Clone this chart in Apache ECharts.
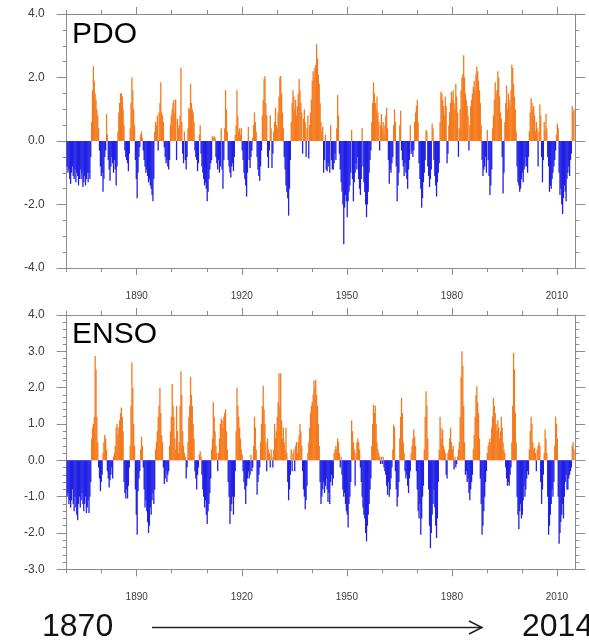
<!DOCTYPE html>
<html>
<head>
<meta charset="utf-8">
<script src="https://cdn.jsdelivr.net/npm/echarts@6/dist/echarts.min.js"></script>
<style>
html,body{margin:0;padding:0;background:#fff;}
#chart{width:589px;height:642px;}
</style>
</head>
<body>
<div id="chart"></div>
<script>
// ---- axis / tick data ----
const startYear = 1870;
const stepsPerYear = 4;          // quarterly values
const xMin = 1870, xMax = 2015.25;
const xMajorTicks = [1890, 1920, 1950, 1980, 2010];
const xMinorTicks = [1870, 1880, 1900, 1910, 1930, 1940, 1960, 1970, 1990, 2000];
const pdoRange = [-4, 4], pdoInterval = 2;
const ensoRange = [-3, 4], ensoInterval = 1;

// ---- PDO index, quarterly, per decade ----
const pdo1870s = [-0.8,-1.0,-0.9,-1.2, -1.35,-1.0,-0.8,-1.1, -1.2,-0.9,-1.3,-1.0, -1.1,-1.4,-1.2,-0.9, -1.2,-1.0,-1.45,-1.3,
                  -1.1,-1.4,-1.2,-1.0, -1.3,-1.0,-1.2,-0.5, 0.6,1.6,2.35,1.9, 1.5,1.3,1.0,0.8, 0.4,-0.3,-0.8,-1.1];
const pdo1880s = [-1.0,-1.6,-1.2,-0.5, -0.3,0.85,0.2,-0.6, -0.9,-1.25,-0.8,-0.5, -0.7,-1.0,-0.6,-0.9, -1.4,-0.8,0.3,0.9,
                  1.2,1.5,1.5,1.4, 1.0,0.5,-0.3,-0.5, -0.6,-0.7,-0.95,-0.4, 0.4,1.2,2.0,1.6, 1.0,0.5,-0.6,-1.2];
const pdo1890s = [-1.8,-1.0,-0.5,-0.2, 0.2,0.3,0.1,-0.3, -0.6,-0.8,-1.0,-0.9, -1.1,-1.3,-1.2,-1.4, -1.5,-1.7,-1.9,-1.2,
                  0.3,0.6,0.5,0.8, -0.3,0.9,1.2,1.85, 0.9,0.8,0.6,-0.2, -0.5,-0.7,-0.6,-0.8, -0.9,-0.6,0.5,0.8];
const pdo1900s = [1.0,1.2,1.3,0.9, 1.3,-0.6,0.7,0.4, 0.5,0.8,2.3,0.6, -0.4,-0.7,0.3,-0.6, -0.9,-0.5,0.4,1.05,
                  1.0,1.8,1.2,1.0, 0.9,0.6,-0.3,-0.5, -0.6,-0.95,-0.7,0.2, 0.5,-0.4,-0.8,-1.0, -1.2,-1.4,-1.3,-1.5];
const pdo1910s = [-1.9,-1.6,-1.2,-0.9, -0.7,-0.6,0.15,0.1, 0.15,0.1,-0.5,-0.7, -0.9,-0.6,-1.0,-0.8, 0.4,-0.9,-1.5,-0.6,
                  0.4,1.6,1.0,0.3, -0.6,-0.8,-1.0,-1.15, -0.8,-0.7,-0.95,-0.5, 0.2,0.5,1.6,0.8, 0.3,0.4,0.2,0.4];
const pdo1920s = [-0.3,-0.6,-1.0,-1.2, -1.4,-1.75,-1.0,0.45, -0.6,-0.85,-0.5,-0.3, 0.1,0.5,0.9,0.6, 0.3,-0.5,-0.9,-1.1,
                  -1.25,-0.8,-0.3,0.8, 1.3,1.95,2.05,1.2, 0.8,-0.5,-0.85,-0.3, 0.8,0.4,-0.85,-0.4, 0.3,0.6,1.05,0.5];
const pdo1930s = [0.4,0.9,1.4,2.0, 2.05,1.5,0.9,0.4, -0.5,-0.9,-1.4,-1.6, -1.8,-2.35,-1.5,-0.6, 0.6,1.2,1.6,1.4,
                  1.0,1.3,0.8,1.1, 1.5,1.95,1.6,1.2, 0.9,-0.4,0.7,1.0, 0.6,-0.5,0.4,0.8, -0.55,0.5,0.9,1.3];
const pdo1940s = [1.9,2.2,2.0,2.3, 2.4,3.05,2.6,2.1, 1.8,1.2,0.6,0.3, 0.45,-1.0,-0.6,0.2, -0.9,-0.95,-0.7,-0.8,
                  -1.0,0.5,-0.6,-0.9, -0.9,-0.7,-0.4,-0.6, 0.4,1.45,0.8,-0.4, -0.9,-1.3,-1.6,-2.0, -3.25,-2.1,-1.7,-1.9];
const pdo1950s = [-2.4,-1.9,-1.6,-1.4, -1.0,0.35,-1.2,-1.9, -1.3,-1.0,-0.7,-0.9, -0.5,-1.2,-1.5,-1.7, -1.2,0.4,-0.8,-1.3,
                  -1.6,-2.0,-2.4,-2.0, -1.6,-1.0,-0.6,-0.3, 0.6,1.2,1.85,1.5, 1.2,1.0,1.4,0.9, 0.6,-0.3,0.5,0.85];
const pdo1960s = [0.4,0.6,0.2,0.5, 0.8,1.05,0.4,-0.6, -1.35,-0.9,-1.0,-0.7, -0.5,0.5,1.0,0.6, -0.8,-1.9,-1.4,-1.0,
                  0.5,0.95,-0.3,-0.6, -0.8,-1.1,-0.7,-1.0, -1.2,-1.5,-0.9,-0.6, 0.5,-0.4,-0.3,-0.5, -0.3,0.6,0.9,1.1];
const pdo1970s = [1.3,0.6,-0.7,-1.2, -1.5,-2.1,-1.8,-1.3, -1.0,-0.6,0.35,0.3, -0.8,-1.1,-1.45,-1.2, -0.9,0.55,0.4,-0.6,
                  -1.1,-1.4,-1.75,-1.3, -1.0,-0.7,0.6,1.55, 1.5,1.3,1.1,0.8, 1.4,1.1,-0.7,-0.4, 0.5,0.9,1.2,1.55];
const pdo1980s = [1.3,1.6,1.2,1.0, 1.8,1.4,0.9,-0.5, 0.4,1.0,1.6,2.0, 2.1,2.7,2.0,1.5, 1.3,1.1,0.8,-0.3,
                  0.5,1.1,1.3,1.5, 1.7,1.9,1.6,2.1, 2.35,2.2,1.9,1.6, 1.2,0.5,-0.6,-1.1, -0.9,-0.8,-0.5,-1.0];
const pdo1990s = [0.35,-0.6,-1.1,-1.7, -1.4,-0.9,0.4,0.8, 1.3,1.85,1.5,1.6, 2.2,2.0,1.4,0.9, 0.7,-0.5,-1.65,-1.0,
                  0.6,1.2,1.75,1.0, 1.5,1.3,1.1,1.6, 2.4,2.3,1.8,1.4, 1.0,0.3,-0.8,-1.3, -1.4,-1.6,-1.5,-1.2];
const pdo2000s = [-1.0,-1.3,-0.9,-0.8, -0.5,-0.8,-1.0,-0.5, 0.3,0.9,1.35,1.2, 1.0,1.1,0.8,0.3, 0.6,0.4,-0.8,0.3,
                  1.15,0.8,-0.5,-1.3, -0.6,0.6,0.3,0.85, 0.4,-0.5,-0.8,-1.6, -1.4,-1.5,-1.2,-1.0, -0.8,-0.6,-0.3,0.2];
const pdo2010s = [0.55,0.4,-1.0,-1.7, -1.5,-2.0,-2.3,-1.8, -1.4,-1.6,-1.9,-1.2, -1.0,-0.8,-1.1,-0.6, -0.4,1.1,0.9,1.0];

// ---- ENSO index, quarterly, per decade ----
const enso1870s = [-1.0,-0.9,-1.2,-1.1, -1.3,-1.1,-0.8,-1.2, -1.4,-1.0,-1.3,-1.5, -1.65,-1.2,-1.0,-1.3, -1.1,-0.9,-1.2,-1.4,
                   -1.2,-1.0,-1.45,-1.3, -1.1,-1.45,-1.0,-0.6, 0.6,0.9,1.0,1.2, 2.87,2.5,1.2,0.5, -0.2,-0.5,-0.85,-0.6];
const enso1880s = [-0.4,0.2,0.5,0.7, 0.6,0.3,-0.3,-0.5, -0.75,-0.55,-0.4,-0.2, -0.5,0.1,0.2,0.4, 0.9,1.0,0.7,0.9,
                   1.1,1.3,1.45,1.2, 0.8,-0.6,-0.9,-1.05, -0.8,-1.05,-0.7,-0.2, 0.4,1.5,2.7,2.0, 1.0,0.4,-0.8,-1.5];
const enso1890s = [-2.05,-0.85,-0.5,-0.3, 0.3,0.65,0.4,-0.2, -0.8,-1.3,-1.1,-1.4, -1.7,-2.0,-1.8,-1.3, -1.5,-1.1,-0.9,-1.2,
                   -0.8,0.3,0.5,0.8, 1.2,1.5,2.0,1.3, 0.7,0.5,-0.2,-0.65, -0.5,-0.3,-0.6,-0.4, -0.3,0.4,0.8,1.2];
const enso1900s = [2.1,1.5,1.2,0.6, 0.3,1.5,0.8,0.2, 0.5,1.5,2.45,1.8, 0.8,0.4,0.2,0.1, -0.5,-0.2,0.5,1.2,
                   1.5,2.3,1.8,1.5, 1.0,0.6,-0.3,-0.5, -0.8,-0.4,-0.2,0.15, 0.25,0.1,-0.4,-0.8, -1.0,-1.3,-1.1,-1.5];
const enso1910s = [-1.75,-1.4,-1.2,-0.9, -0.5,0.3,0.6,1.6, 1.2,0.8,0.4,0.2, -0.3,0.2,0.6,1.0, 1.15,1.1,0.9,1.2,
                   1.3,1.4,0.8,0.3, -0.6,-1.0,-1.75,-1.4, -1.2,-1.0,-1.5,-1.0, -0.3,0.8,2.0,1.5, 1.2,0.9,0.6,0.3];
const enso1920s = [0.15,-0.3,-0.6,-0.8, -1.2,-0.7,-0.5,-0.3, -0.5,-0.4,0.15,-0.3, -0.2,0.4,1.2,0.9, 0.3,-0.95,-0.6,-0.4,
                   -0.2,0.5,1.0,1.5, 2.05,1.4,1.0,0.5, -0.3,0.6,0.3,0.2, -0.2,0.3,0.1,-0.2, 0.3,1.0,0.6,0.8];
const enso1930s = [1.2,1.6,2.4,1.5, 2.4,1.1,0.6,0.9, 0.5,0.3,0.9,0.2, -0.6,-1.1,-0.8,-0.4, 0.3,-0.3,0.2,0.3,
                   -0.3,0.4,0.5,0.2, 0.5,0.7,1.0,0.8, 0.4,-0.3,-0.8,-1.0, -1.35,-1.1,-0.7,0.2, 0.5,0.9,1.3,1.5];
const enso1940s = [1.6,1.8,2.2,2.0, 2.22,1.8,1.5,1.0, 0.4,-0.6,-1.2,-1.0, -0.8,-0.6,-0.9,-0.7, -0.5,-0.8,-1.15,-0.9,
                   -1.2,-0.6,-0.4,-0.7, -0.5,0.2,0.3,0.4, 0.3,0.6,0.5,0.2, -0.2,0.1,-0.4,-0.8, -1.0,-0.9,-1.2,-1.4];
const enso1950s = [-1.5,-1.85,-1.2,-1.0, -0.6,1.1,0.8,0.5, 0.3,-0.7,0.2,0.5, 0.6,0.5,0.3,-0.2, -0.6,-1.0,-1.3,-1.5,
                   -1.6,-2.0,-2.23,-1.8, -1.5,-1.2,-0.8,-0.5, 0.4,1.0,1.53,1.3, 1.5,1.0,0.5,0.3, 0.2,0.1,-0.1,0.1];
const enso1960s = [-0.1,0.1,-0.2,-0.3, -0.4,-0.7,-0.95,-0.6, -1.0,-0.8,-0.5,-0.2, 0.3,0.98,0.9,-0.3, -0.8,-1.27,-1.0,-0.6,
                   0.6,1.2,1.72,1.3, 0.5,0.2,-0.3,-0.5, -0.4,-0.7,-0.9,-0.5, -0.3,0.2,0.4,0.6, 0.85,0.65,0.4,-0.3];
const enso1970s = [-0.8,-1.4,-1.6,-1.2, -2.05,-1.6,-1.0,-0.7, 0.3,1.2,1.9,1.5, 0.6,-0.8,-1.8,-2.42, -2.0,-1.5,-1.2,-0.8,
                   -1.3,-1.8,-2.14,-1.6, -0.6,0.3,1.2,0.9, 0.6,0.85,0.4,0.3, 0.2,-0.4,-0.5,0.2, 0.3,0.6,0.9,0.5];
const enso1980s = [0.3,0.4,-0.25,0.1, -0.2,-0.1,0.1,0.3, 0.5,1.2,2.3,3.0, 2.6,1.5,0.5,-0.4, -0.3,-0.6,-0.5,-0.9,
                   -1.1,-0.8,-0.6,-0.4, 0.3,0.7,1.2,1.8, 2.04,1.6,1.3,0.6, -0.5,-1.2,-2.05,-1.8, -1.4,-1.0,-0.6,-0.3];
const enso1990s = [0.2,0.4,0.5,0.6, 0.5,0.9,1.2,1.72, 1.5,1.3,1.0,0.8, 1.1,0.9,0.6,0.8, 1.2,0.9,0.5,0.3,
                   0.2,-0.2,-0.5,-0.7, -0.6,-0.7,-0.4,-0.2, 0.5,1.5,2.96,2.5, 1.3,0.5,-1.0,-1.5, -1.9,-1.4,-1.2,-1.6];
const enso2000s = [-1.5,-1.1,-0.7,-1.0, -0.8,-0.5,-0.3,-0.4, 0.3,0.8,1.2,1.0, 0.5,0.3,0.35,0.2, -0.3,0.3,0.4,0.5,
                   0.4,-0.6,-1.2,-0.8, -0.4,0.2,0.85,0.6, 0.2,-1.0,-2.05,-1.8, -1.5,-1.2,-0.8,-1.0, -0.6,0.4,1.2,1.0];
const enso2010s = [0.6,-1.0,-2.3,-2.0, -1.7,-1.5,-1.2,-1.6, -1.0,-0.6,-0.4,-0.8, -0.8,-0.5,-0.4,-0.3, -0.2,0.4,0.5,0.3];

const pdoValues = [].concat(pdo1870s, pdo1880s, pdo1890s, pdo1900s, pdo1910s, pdo1920s, pdo1930s,
  pdo1940s, pdo1950s, pdo1960s, pdo1970s, pdo1980s, pdo1990s, pdo2000s, pdo2010s);
const ensoValues = [].concat(enso1870s, enso1880s, enso1890s, enso1900s, enso1910s, enso1920s, enso1930s,
  enso1940s, enso1950s, enso1960s, enso1970s, enso1980s, enso1990s, enso2000s, enso2010s);

// ---- styling ----
const ORANGE = '#f47a1e';
const BLUE = '#2020e6';
const AXIS = '#8c8c8c';
const LABEL = '#3c3c3c';
const FONT = '"Liberation Sans", Arial, Helvetica, sans-serif';

function toPairs(vals) {
  return vals.map((v, i) => [startYear + (i + 0.5) / stepsPerYear, v]);
}

function xAxesFor(grid, withLabels) {
  const base = {
    gridIndex: grid, type: 'value', min: xMin, max: xMax,
    splitLine: {show: false},
    axisLine: {show: false, onZero: false}
  };
  return [
    Object.assign({}, base, {
      position: 'bottom',
      axisLine: {show: true, onZero: false, lineStyle: {color: AXIS, width: 1}},
      axisTick: {show: true, customValues: xMajorTicks, length: 7, lineStyle: {color: AXIS}},
      axisLabel: {show: withLabels, customValues: xMajorTicks, margin: 23, color: LABEL,
        fontSize: 10, fontFamily: FONT, formatter: v => String(v)}
    }),
    Object.assign({}, base, {
      position: 'bottom',
      axisTick: {show: true, customValues: xMinorTicks, length: 4, lineStyle: {color: AXIS}},
      axisLabel: {show: false}
    }),
    Object.assign({}, base, {
      position: 'top',
      axisLine: {show: true, onZero: false, lineStyle: {color: AXIS, width: 1}},
      axisTick: {show: true, customValues: xMajorTicks, length: 7, lineStyle: {color: AXIS}},
      axisLabel: {show: false}
    }),
    Object.assign({}, base, {
      position: 'top',
      axisTick: {show: true, customValues: xMinorTicks, length: 4, lineStyle: {color: AXIS}},
      axisLabel: {show: false}
    })
  ];
}

function yAxesFor(grid, range, interval, minorSplit) {
  const base = {
    gridIndex: grid, type: 'value', min: range[0], max: range[1], interval: interval,
    splitLine: {show: false},
    axisLine: {show: true, onZero: false, lineStyle: {color: AXIS, width: 1}},
    axisTick: {show: true, length: 10, lineStyle: {color: AXIS}},
    minorTick: {show: true, splitNumber: minorSplit, length: 4, lineStyle: {color: AXIS}},
    minorSplitLine: {show: false}
  };
  return [
    Object.assign({}, base, {
      position: 'left',
      axisLabel: {show: true, margin: 22, color: LABEL, fontSize: 12, fontFamily: FONT,
        formatter: v => v.toFixed(1)}
    }),
    Object.assign({}, base, {position: 'right', axisLabel: {show: false}})
  ];
}

function barSeries(vals, xi, yi) {
  return {
    type: 'bar', xAxisIndex: xi, yAxisIndex: yi,
    data: toPairs(vals),
    barWidth: 1.3,
    silent: true,
    itemStyle: {color: p => (p.value[1] >= 0 ? ORANGE : BLUE)}
  };
}

const chart = echarts.init(document.getElementById('chart'), null, {renderer: 'canvas'});
chart.setOption({
  animation: false,
  backgroundColor: '#ffffff',
  grid: [
    {left: 66.7, top: 14, width: 508.6, height: 254},
    {left: 66.7, top: 315, width: 508.6, height: 254.3}
  ],
  xAxis: [].concat(xAxesFor(0, true), xAxesFor(1, true)),
  yAxis: [].concat(yAxesFor(0, pdoRange, pdoInterval, 4), yAxesFor(1, ensoRange, ensoInterval, 5)),
  series: [
    barSeries(pdoValues, 0, 0),
    barSeries(ensoValues, 4, 2)
  ],
  graphic: [
    {type: 'text', x: 72, y: 20, style: {text: 'PDO', font: '30px ' + FONT, fill: '#000'}},
    {type: 'text', x: 72, y: 320, style: {text: 'ENSO', font: '30px ' + FONT, fill: '#000'}},
    {type: 'text', x: 42, y: 611, style: {text: '1870', font: '32px ' + FONT, fill: '#111'}},
    {type: 'text', x: 522, y: 611, style: {text: '2014', font: '32px ' + FONT, fill: '#111'}},
    {type: 'line', shape: {x1: 152, y1: 627.5, x2: 482, y2: 627.5}, style: {stroke: '#222', lineWidth: 1.5}},
    {type: 'polyline', shape: {points: [[469, 621], [482, 627.5], [469, 634]]},
      style: {stroke: '#222', lineWidth: 1.5, fill: null}}
  ]
});
</script>
</body>
</html>
